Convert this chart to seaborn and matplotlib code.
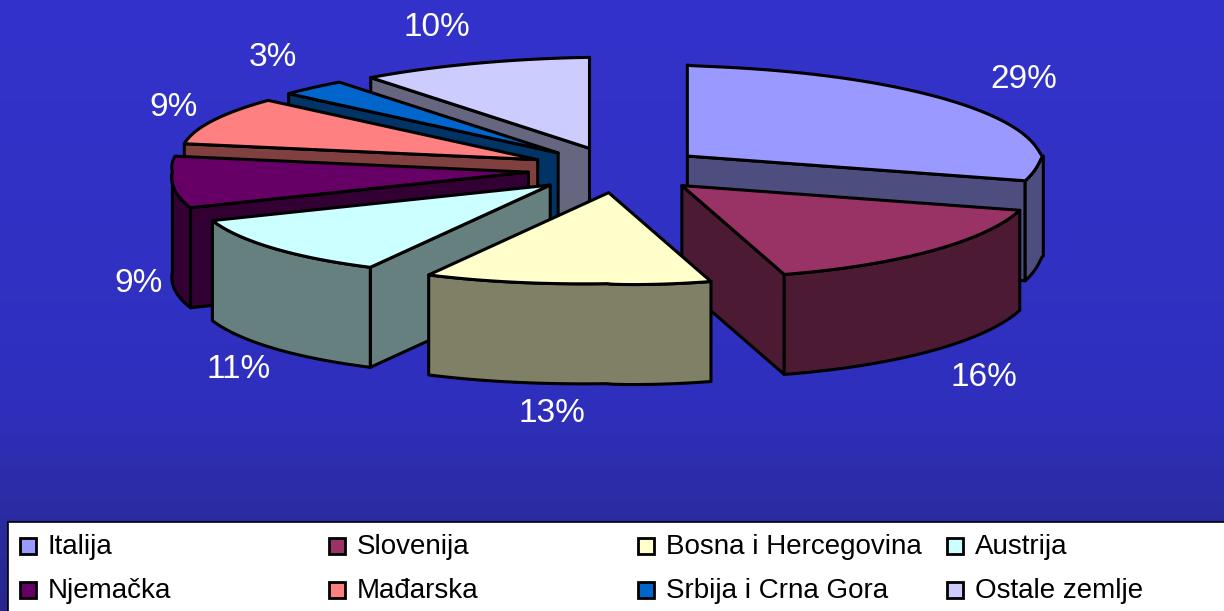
import numpy as np
import matplotlib
matplotlib.use("Agg")
import matplotlib.pyplot as plt
from matplotlib.patches import Polygon, Rectangle
import seaborn as sns

# Podaci
countries = ["Italija", "Slovenija", "Bosna i Hercegovina", "Austrija",
             "Njemačka", "Mađarska", "Srbija i Crna Gora", "Ostale zemlje"]
shares = [29, 16, 13, 11, 9, 9, 3, 10]
top_colors = ["#9999FF", "#993366", "#FFFFCC", "#CCFFFF",
              "#660066", "#FF8080", "#0066CC", "#CCCCFF"]

# Geometrija (pikseli slike)
CX, CY = 617, 170
RX, RY = 356, 91
EXPLODE = 0.25
DEPTH = 100
label_pos = [(1024, 79), (984, 377), (552, 414), (239, 369),
             (139, 283), (174, 108), (273, 58), (437, 27)]

sns.set_theme(style="white")
plt.rcParams["font.family"] = ["Liberation Sans", "DejaVu Sans"]
palette = sns.color_palette(top_colors)
side_colors = [tuple(c * 0.5 for c in col) for col in palette]

fig = plt.figure(figsize=(12.24, 6.11), dpi=100)
ax = fig.add_axes([0, 0, 1, 1])
ax.set_xlim(0, 1224)
ax.set_ylim(611, 0)
ax.axis("off")

# Pozadina s gradijentom
rows = np.arange(611)
bg = np.stack([np.interp(rows, [0, 400, 500, 611], [51, 47, 44, 38]),
               np.interp(rows, [0, 400, 500, 611], [51, 47, 44, 38]),
               np.interp(rows, [0, 400, 500, 611], [204, 190, 165, 140])], axis=1)[:, None, :]
ax.imshow(bg.astype(np.uint8), extent=[0, 1224, 611, 0], aspect="auto", zorder=0)


def rim(center, deg):
    # rub kriske nije prava elipsa, malo je izoblicen kao u originalu
    deg = np.asarray(deg, dtype=float)
    t = np.radians(deg)
    s = np.abs(np.sin(2 * t))
    bulge = np.where(deg < 180, np.sqrt(s), s)
    return np.column_stack([center[0] + RX * np.sin(t) - 10 * bulge,
                            center[1] - RY * np.cos(t) + 3 * bulge])


def add_poly(points, color, z):
    ax.add_patch(Polygon(points, closed=True, facecolor=color, edgecolor="black",
                         linewidth=2.2, joinstyle="round", zorder=z))


edges = np.concatenate([[0], np.cumsum(shares)]) * 3.6
slices = []
for i in range(len(shares)):
    start, end = edges[i], edges[i + 1]
    mid = np.radians((start + end) / 2)
    apex = (CX + EXPLODE * RX * np.sin(mid), CY - EXPLODE * RY * np.cos(mid))
    slices.append((apex[1], i, apex, start, end))

# Crtanje od straznjih prema prednjim kriskama
down = np.array([0, DEPTH])
z = 2
for _, i, apex, start, end in sorted(slices, key=lambda s: s[0]):
    a = np.array(apex)
    walls = []
    if np.sin(np.radians(start)) < 0:
        walls.append(start)
    if np.sin(np.radians(end)) > 0:
        walls.append(end)
    for w in walls:
        p = rim(apex, [w])[0]
        add_poly([a, p, p + down, a + down], side_colors[i], z)
        z += 1
    lo, hi = max(start, 90), min(end, 270)
    if lo < hi:
        arc = rim(apex, np.linspace(lo, hi, 60))
        add_poly(np.vstack([arc, (arc + down)[::-1]]), side_colors[i], z)
        z += 1
    arc = rim(apex, np.linspace(start, end, 120))
    add_poly(np.vstack([a, arc]), palette[i], z)
    z += 1

for (x, y), val in zip(label_pos, shares):
    ax.text(x, y, f"{val}%", color="white", fontsize=24, ha="center", va="center", zorder=z)

# Legenda
ax.add_patch(Rectangle((8, 522), 1230, 100, facecolor="white", edgecolor="black",
                       linewidth=1.2, zorder=z))
for i, name in enumerate(countries):
    col, row = i % 4, i // 4
    x = 20 + col * 309
    y = 546 + row * 44
    ax.add_patch(Rectangle((x, y - 8), 16, 16, facecolor=palette[i], edgecolor="black",
                           linewidth=2, zorder=z + 1))
    ax.text(x + 28, y + 1, name, color="black", fontsize=20, ha="left", va="center", zorder=z + 1)

fig.savefig("out.png", dpi=100)
